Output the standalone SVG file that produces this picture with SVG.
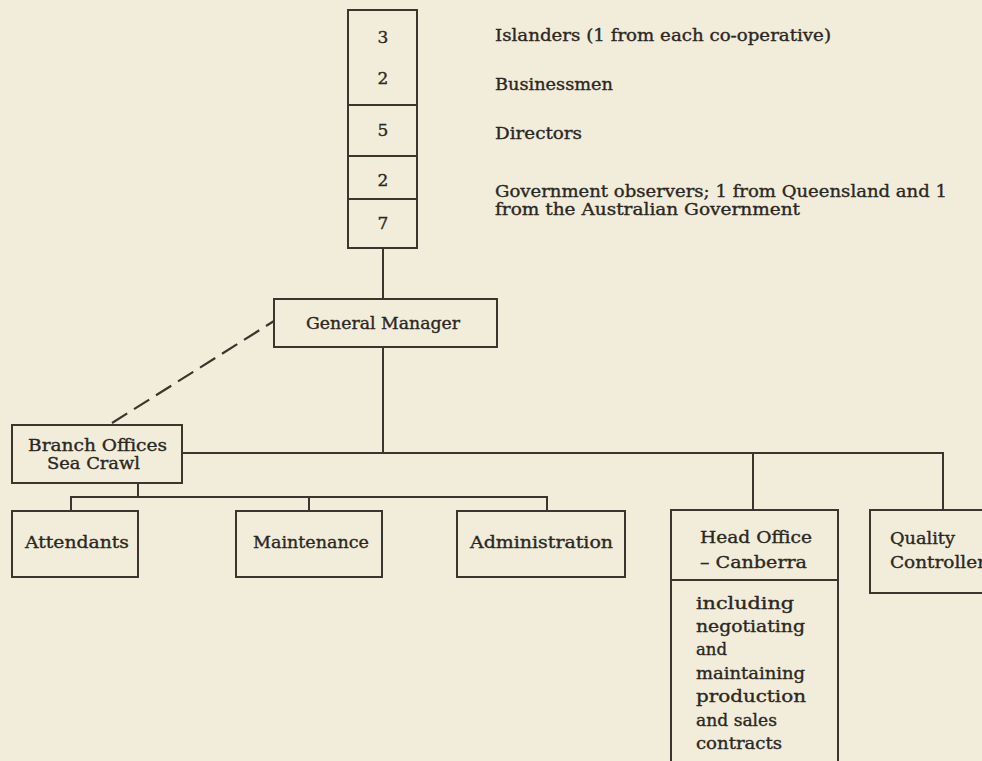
<svg xmlns="http://www.w3.org/2000/svg" width="982" height="761" viewBox="0 0 982 761">
<style>
.bg{fill:#f2edda}
.box{fill:none;stroke:#3a352e;stroke-width:2}
.ln{fill:none;stroke:#3a352e;stroke-width:2}
.dash{fill:none;stroke:#3a352e;stroke-width:2.2;stroke-dasharray:18 8}
text{font-family:"DejaVu Serif","Liberation Serif",serif;font-size:16px;fill:#2b2722;stroke:#2b2722;stroke-width:0.35}
.c{text-anchor:middle}
.n{font-size:17px}
</style>
<rect class="bg" x="0" y="0" width="982" height="761"/>
<g id="connectors">
<line class="ln" x1="383" y1="248" x2="383" y2="299"/>
<line class="ln" x1="383" y1="347" x2="383" y2="453"/>
<line class="ln" x1="182" y1="453" x2="944" y2="453"/>
<line class="ln" x1="753" y1="453" x2="753" y2="510"/>
<line class="ln" x1="943" y1="453" x2="943" y2="510"/>
<line class="ln" x1="138" y1="483" x2="138" y2="497"/>
<line class="ln" x1="70" y1="497" x2="548" y2="497"/>
<line class="ln" x1="71" y1="497" x2="71" y2="511"/>
<line class="ln" x1="309" y1="497" x2="309" y2="511"/>
<line class="ln" x1="547" y1="497" x2="547" y2="511"/>
<line class="dash" x1="112" y1="423" x2="274" y2="321"/>
</g>
<g id="board">
<rect class="box" x="348" y="10" width="69" height="238"/>
<line class="ln" x1="348" y1="105" x2="417" y2="105"/>
<line class="ln" x1="348" y1="156" x2="417" y2="156"/>
<line class="ln" x1="348" y1="199" x2="417" y2="199"/>
<text class="c n" x="383" y="43">3</text>
<text class="c n" x="383" y="84">2</text>
<text class="c n" x="383" y="136">5</text>
<text class="c n" x="383" y="186">2</text>
<text class="c n" x="383" y="229">7</text>
</g>
<g id="board-labels">
<text x="495" y="41" textLength="336" lengthAdjust="spacingAndGlyphs">Islanders (1 from each co-operative)</text>
<text x="495" y="90" textLength="118" lengthAdjust="spacingAndGlyphs">Businessmen</text>
<text x="495" y="139" textLength="87" lengthAdjust="spacingAndGlyphs">Directors</text>
<text x="495" y="197" textLength="452" lengthAdjust="spacingAndGlyphs">Government observers; 1 from Queensland and 1</text>
<text x="495" y="215" textLength="305" lengthAdjust="spacingAndGlyphs">from the Australian Government</text>
</g>
<g id="general-manager">
<rect class="box" x="274" y="299" width="223" height="48"/>
<text x="306" y="329" textLength="154" lengthAdjust="spacingAndGlyphs">General Manager</text>
</g>
<g id="branch-offices">
<rect class="box" x="12" y="425" width="170" height="58"/>
<text x="28" y="451" textLength="139" lengthAdjust="spacingAndGlyphs">Branch Offices</text>
<text x="47" y="469" textLength="93" lengthAdjust="spacingAndGlyphs">Sea Crawl</text>
</g>
<g id="attendants">
<rect class="box" x="12" y="511" width="126" height="66"/>
<text x="25" y="548" textLength="104" lengthAdjust="spacingAndGlyphs">Attendants</text>
</g>
<g id="maintenance">
<rect class="box" x="236" y="511" width="146" height="66"/>
<text x="253" y="548" textLength="116" lengthAdjust="spacingAndGlyphs">Maintenance</text>
</g>
<g id="administration">
<rect class="box" x="457" y="511" width="168" height="66"/>
<text x="470" y="548" textLength="143" lengthAdjust="spacingAndGlyphs">Administration</text>
</g>
<g id="head-office">
<path class="box" d="M671 770 V510 H838 V770"/>
<line class="ln" x1="671" y1="580" x2="838" y2="580"/>
<text x="700" y="543" textLength="112" lengthAdjust="spacingAndGlyphs">Head Office</text>
<text x="700" y="568" textLength="107" lengthAdjust="spacingAndGlyphs">– Canberra</text>
<text x="696" y="609" textLength="98" lengthAdjust="spacingAndGlyphs">including</text>
<text x="696" y="632" textLength="109" lengthAdjust="spacingAndGlyphs">negotiating</text>
<text x="696" y="655" textLength="31" lengthAdjust="spacingAndGlyphs">and</text>
<text x="696" y="679" textLength="109" lengthAdjust="spacingAndGlyphs">maintaining</text>
<text x="696" y="702" textLength="110" lengthAdjust="spacingAndGlyphs">production</text>
<text x="696" y="726" textLength="81" lengthAdjust="spacingAndGlyphs">and sales</text>
<text x="696" y="749" textLength="86" lengthAdjust="spacingAndGlyphs">contracts</text>
</g>
<g id="quality-controller">
<rect class="box" x="870" y="510" width="130" height="83"/>
<text x="890" y="544" textLength="65" lengthAdjust="spacingAndGlyphs">Quality</text>
<text x="890" y="568" textLength="96" lengthAdjust="spacingAndGlyphs">Controller</text>
</g>
</svg>
